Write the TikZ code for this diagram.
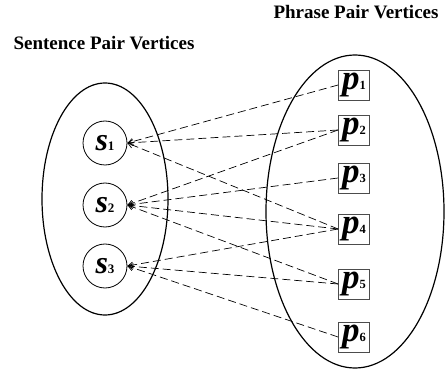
\documentclass[tikz,border=0pt]{standalone}
\usepackage{fontspec}
\setmainfont{Liberation Serif}
\usetikzlibrary{arrows.meta}
\newcommand\svlabel[1]{{\fontsize{32}{32}\selectfont\bfseries\itshape s}{\fontsize{13}{13}\selectfont\bfseries #1}}
\newcommand\pvlabel[1]{{\fontsize{35}{35}\selectfont\bfseries\itshape p}{\fontsize{12.5}{12.5}\selectfont\bfseries #1}}
\begin{document}
\begin{tikzpicture}[x=1pt,y=-1pt,
  title/.style={font=\fontsize{19}{22}\selectfont\bfseries, inner sep=0pt, anchor=base},
  group/.style={draw, line width=1.2pt},
  svert/.style={circle, draw, line width=0.8pt, minimum size=44pt, inner sep=0pt},
  pvert/.style={rectangle, draw=black!70, line width=0.8pt, minimum width=31pt, minimum height=30pt, inner sep=0pt},
  link/.style={dash pattern=on 8pt off 4pt, line width=0.7pt, -{Straight Barb[length=5pt,width=6pt]}}
]
\useasboundingbox (0,0) rectangle (447,374);
\node[title] (tp) at (356,19) {Phrase Pair Vertices};
\node[title] (ts) at (104,50) {Sentence Pair Vertices};
\draw[group] (105,199) ellipse [x radius=63pt, y radius=116pt];
\draw[group] (355,211.5) ellipse [x radius=89pt, y radius=156.5pt];
\node[svert] (s1) at (105,143) {\svlabel{1}};
\node[svert] (s2) at (105,205) {\svlabel{2}};
\node[svert] (s3) at (105,266) {\svlabel{3}};
\node[pvert] (p1) at (354,85) {\pvlabel{1}};
\node[pvert] (p2) at (354,130) {\pvlabel{2}};
\node[pvert] (p3) at (354,178) {\pvlabel{3}};
\node[pvert] (p4) at (354,229) {\pvlabel{4}};
\node[pvert] (p5) at (354,284) {\pvlabel{5}};
\node[pvert] (p6) at (354,337) {\pvlabel{6}};
\foreach \p in {p1,p2,p4} \draw[link] (\p.west) -- (s1.east);
\foreach \p in {p2,p3,p4,p5} \draw[link] (\p.west) -- (s2.east);
\foreach \p in {p4,p5,p6} \draw[link] (\p.west) -- (s3.east);
\end{tikzpicture}
\end{document}
